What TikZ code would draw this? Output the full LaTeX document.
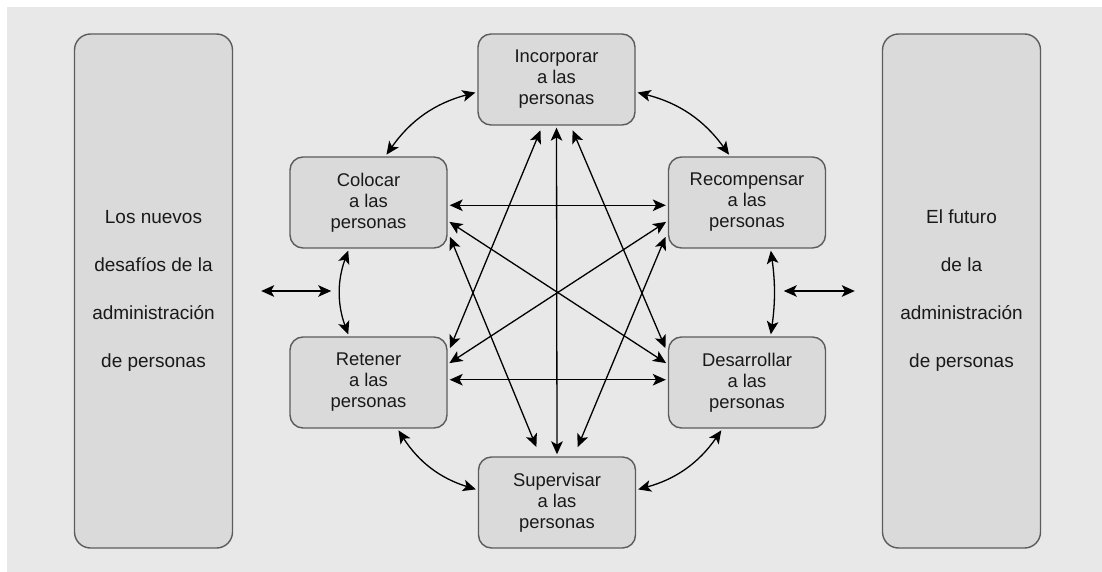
\documentclass[tikz,border=0pt]{standalone}
\usepackage{fontspec}
\setmainfont{Liberation Sans}
\usetikzlibrary{arrows.meta}
\definecolor{fondo}{HTML}{E8E8E8}
\definecolor{grisCaja}{HTML}{DADADA}
\definecolor{borde}{HTML}{5C5C5C}

\begin{document}
\begin{tikzpicture}[
x=0.5pt, y=-0.5pt, node distance=90pt,
caja/.style={rectangle, rounded corners=6.5pt, draw=borde, fill=grisCaja, line width=0.7pt, minimum width=78.5pt, minimum height=45.5pt, inner sep=0pt, align=center, text=black!90, font=\fontsize{9.2pt}{10.5pt}\selectfont},
grande/.style={caja, rounded corners=8pt, minimum width=79pt, minimum height=257pt, font=\fontsize{9.5pt}{24pt}\selectfont},
flecha/.style={{Stealth[length=6.5pt,width=5.8pt,inset=1.6pt]}-{Stealth[length=6.5pt,width=5.8pt,inset=1.6pt]}, line width=0.65pt, black, shorten <=1pt, shorten >=1pt}
]
\useasboundingbox (0,0) rectangle (1102,572);
\fill[white] (0,0) rectangle (1102,572);
\fill[fondo] (7,7) rectangle (1102,572);
%Nodes
\node[caja]   (incorporar)  at (556.5,79.5)                                    {Incorporar\\a las\\personas};
\node[caja]   (colocar)     [below of=incorporar, xshift=-94pt, yshift=28.5pt] {Colocar\\a las\\personas};
\node[caja]   (retener)     [below of=colocar]                                 {Retener\\a las\\personas};
\node[caja]   (recompensar) [right of=colocar, xshift=99.25pt]                 {Recompensar\\a las\\personas};
\node[caja]   (desarrollar) [below of=recompensar]                             {Desarrollar\\a las\\personas};
\node[caja]   (supervisar)  [below of=retener, xshift=94.25pt, yshift=30pt]    {Supervisar\\a las\\personas};
\node[grande] (desafios)    [left of=colocar, xshift=-17.5pt, yshift=-44.25pt] {Los nuevos\\desafíos de la\\administración\\de personas};
\node[grande] (futuro)      [right of=recompensar, xshift=17.25pt, yshift=-44.25pt] {El futuro\\de la\\administración\\de personas};
\coordinate (izq1) at ([xshift=13pt]desafios.east);
\coordinate (izq2) at ([xshift=50pt]desafios.east);
\coordinate (der1) at ([xshift=-50pt]futuro.west);
\coordinate (der2) at ([xshift=-12.5pt]futuro.west);
%Lines
\draw[flecha] (colocar.70) to[bend left=20] (incorporar.189);
\draw[flecha] (incorporar.-9) to[bend left=20] (recompensar.110);
\draw[flecha] (colocar.-113) to[bend right=20] (retener.113);
\draw[flecha] (recompensar.-63) to[bend left=8] (desarrollar.63);
\draw[flecha] (retener.-58) to[bend right=20] (supervisar.171);
\draw[flecha] (desarrollar.-118) to[bend left=20] (supervisar.9);
\draw[flecha] (colocar.-2) -- (recompensar.182);
\draw[flecha] (retener.2) -- (desarrollar.178);
\draw[flecha] (incorporar.south) -- (supervisar.north);
\draw[flecha] (colocar.-13) -- (desarrollar.167);
\draw[flecha] (recompensar.193) -- (retener.13);
\draw[flecha, shorten <=2.5pt, shorten >=3pt] (incorporar.253) -- (retener.20);
\draw[flecha, shorten <=2.5pt, shorten >=3pt] (incorporar.287) -- (desarrollar.160);
\draw[flecha, shorten <=5pt, shorten >=3pt] (supervisar.110) -- (colocar.-20);
\draw[flecha, shorten <=5pt, shorten >=3pt] (supervisar.70) -- (recompensar.200);
\draw[flecha] (izq1) -- (izq2);
\draw[flecha] (der1) -- (der2);
\end{tikzpicture}
\end{document}
